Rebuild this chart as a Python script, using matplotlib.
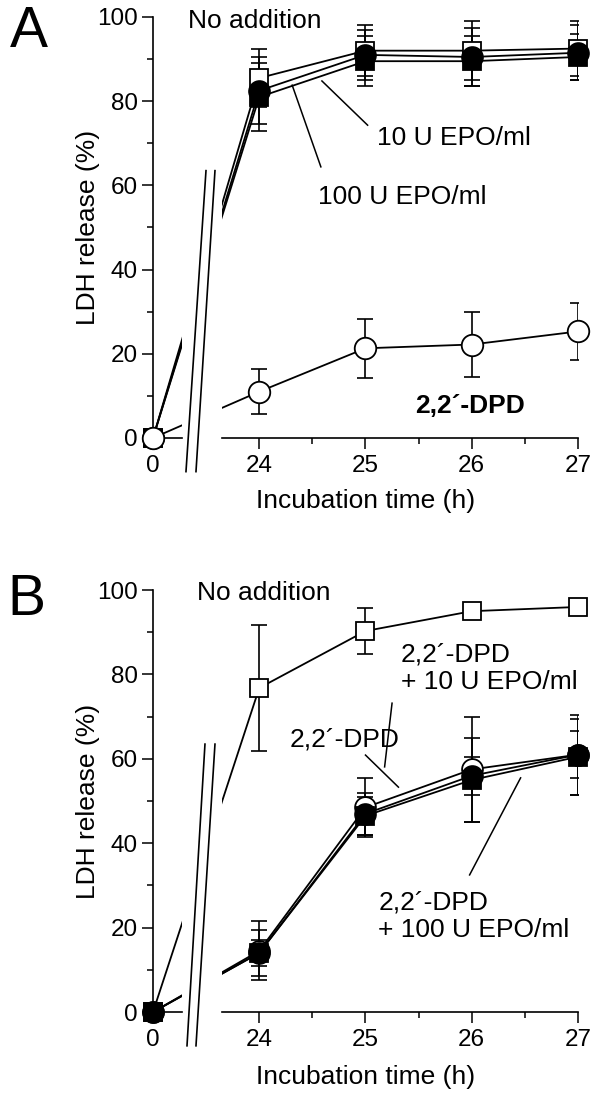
import numpy as np
import matplotlib
matplotlib.use('Agg')
import matplotlib.pyplot as plt

plt.rcParams['font.family'] = ['Liberation Sans', 'DejaVu Sans']

times = [0, 24, 25, 26, 27]

# panel A
a_none = [0, 85.5, 92, 92, 92.5]
a_none_err = [7, 6, 7, 6.5]
a_epo10 = [0, 82.5, 91, 90.5, 91.5]
a_epo10_err = [8, 6, 7, 6.5]
a_epo100 = [0, 81, 89.5, 89.5, 90.5]
a_epo100_err = [8, 6, 6, 5.5]
a_dpd = [0, 11, 21.3, 22.2, 25.3]
a_dpd_err = [5.3, 7, 7.7, 6.7]

# panel B
b_none = [0, 76.8, 90.3, 95, 96]
b_none_err = [15, 5.5, 1, 1]
b_dpd = [0, 14.5, 48.5, 57.5, 61]
b_dpd_err = [7, 7, 12.5, 9.5]
b_epo10 = [0, 14, 47, 56, 61]
b_epo10_err = [5.5, 5, 4.5, 5.5]
b_epo100 = [0, 14, 46.5, 55, 60.5]
b_epo100_err = [3, 4.5, 10, 9]


# broken time axis: 0..24 h squeezed into one unit before 24
def fwd(t):
    t = np.asarray(t, dtype=float)
    return np.where(t < 24, 23 + t / 24, t)


def inv(s):
    s = np.asarray(s, dtype=float)
    return np.where(s < 24, (s - 23) * 24, s)


def setup(ax, brk, xlab_y):
    ax.set_xscale('function', functions=(fwd, inv))
    ax.set_xlim(0, 27)
    ax.set_ylim(0, 100)
    for s in ['top', 'right', 'bottom']:
        ax.spines[s].set_visible(False)
    ax.spines['left'].set_linewidth(1.2)
    ax.set_xticks([0, 24, 25, 26, 27])
    ax.set_xticks([24.5, 25.5, 26.5], minor=True)
    ax.set_yticks(range(0, 101, 20))
    ax.set_yticks(range(10, 100, 20), minor=True)
    ax.tick_params(which='major', length=8, width=1.1, labelsize=17.5)
    ax.tick_params(which='minor', length=4.5, width=1.1)
    ax.tick_params(axis='x', pad=4.5)
    ax.tick_params(axis='y', pad=3)
    ax.axvspan(6.6, 15.6, color='white', lw=0, zorder=2.6)
    ax.plot([0, 6.6], [0, 0], color='k', lw=1.2, clip_on=False, zorder=3)
    ax.plot([15.6, 27], [0, 0], color='k', lw=1.2, clip_on=False, zorder=3)
    for x0, x1 in brk:
        ax.plot([x0, x1], [-8, 63.5], color='k', lw=1.2, clip_on=False, zorder=3)
    ax.set_xlabel('Incubation time (h)', fontsize=19)
    ax.xaxis.set_label_coords(0.5, xlab_y)
    ax.set_ylabel('LDH release (%)', fontsize=19)
    ax.yaxis.set_label_coords(-0.125, 0.5)


def series(ax, y, err, marker, face, ms, z):
    ax.plot(times, y, color='k', lw=1.3, zorder=2)
    ax.errorbar(times[1:], y[1:], yerr=err, fmt='none', ecolor='k',
                elinewidth=1.2, capsize=6, capthick=1.2, zorder=2)
    ax.plot(times, y, ls='none', marker=marker, ms=ms, mfc=face, mec='k',
            mew=1.3, zorder=z, clip_on=False)


fig = plt.figure(figsize=(6, 10.96), dpi=100)
axA = fig.add_axes([0.255, 0.6004, 0.7083, 0.3841])
axB = fig.add_axes([0.255, 0.0766, 0.7083, 0.3850])

setup(axA, [(7.45, 11.97), (9.71, 14.0)], -0.122)
setup(axB, [(7.68, 11.74), (9.71, 14.0)], -0.126)

# A
series(axA, a_none, a_none_err, 's', 'white', 13.5, 4)
series(axA, a_epo100, a_epo100_err, 's', 'black', 13.5, 5)
series(axA, a_epo10, a_epo10_err, 'o', 'black', 15, 6)
series(axA, a_dpd, a_dpd_err, 'o', 'white', 15.5, 7)

axA.text(7.9, 99, 'No addition', fontsize=19, va='center', ha='left', zorder=8)
axA.text(25.11, 71.3, '10 U EPO/ml', fontsize=19, va='center', ha='left')
axA.plot([24.59, 25.02], [84.8, 74.3], color='k', lw=1.1)
axA.text(24.55, 57.2, '100 U EPO/ml', fontsize=19, va='center', ha='left')
axA.plot([24.31, 24.58], [83.8, 64.4], color='k', lw=1.1)
axA.text(25.98, 7.6, '2,2´-DPD', fontsize=19, fontweight='bold', va='center', ha='center')

# B
series(axB, b_none, b_none_err, 's', 'white', 13.5, 4)
series(axB, b_dpd, b_dpd_err, 'o', 'white', 15, 5)
series(axB, b_epo100, b_epo100_err, 's', 'black', 13.5, 6)
series(axB, b_epo10, b_epo10_err, 'o', 'black', 15, 7)

axB.text(9.9, 99.3, 'No addition', fontsize=19, va='center', ha='left', zorder=8)
axB.text(25.33, 81.4, '2,2´-DPD\n+ 10 U EPO/ml', fontsize=19, va='center', ha='left')
axB.plot([25.25, 25.18], [73.2, 58.1], color='k', lw=1.1)
axB.text(24.29, 64.7, '2,2´-DPD', fontsize=19, va='center', ha='left')
axB.plot([25.0, 25.31], [60.9, 53.3], color='k', lw=1.1)
axB.text(25.12, 22.7, '2,2´-DPD\n+ 100 U EPO/ml', fontsize=19, va='center', ha='left')
axB.plot([25.98, 26.46], [32.5, 55.5], color='k', lw=1.1)

fig.text(10 / 600, 1 - 47 / 1096, 'A', fontsize=41, va='baseline')
fig.text(7 / 600, 1 - 615 / 1096, 'B', fontsize=41, va='baseline')

fig.savefig('out.png', dpi=100)
